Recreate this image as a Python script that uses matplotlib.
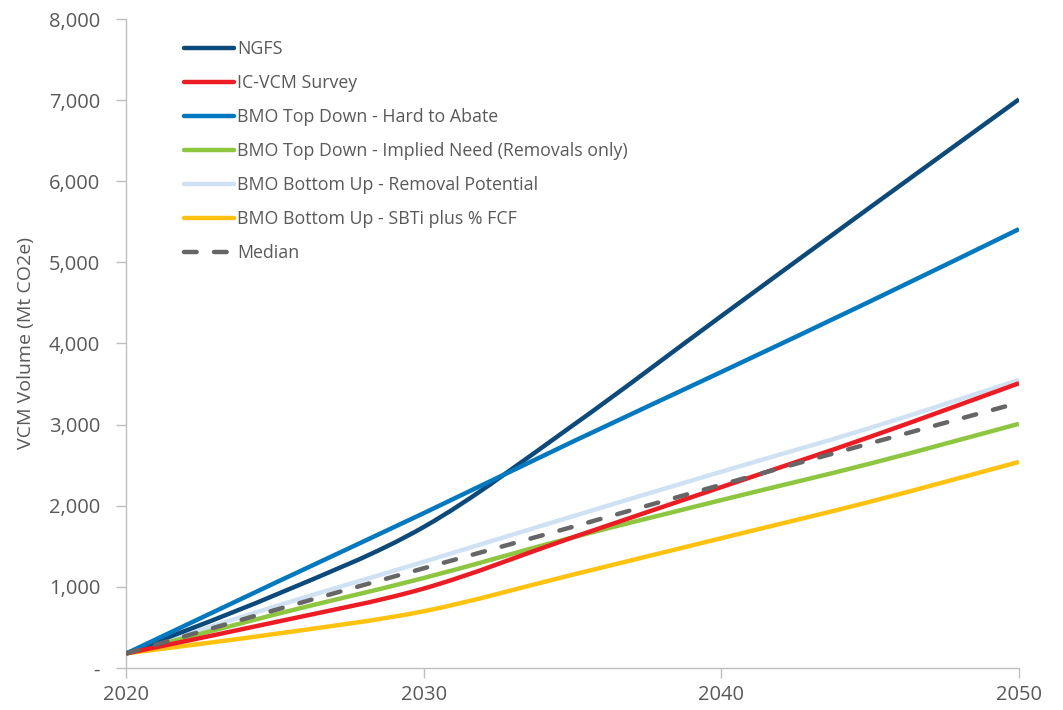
import numpy as np
import matplotlib
matplotlib.use("Agg")
import matplotlib.pyplot as plt
from matplotlib.path import Path
from matplotlib.patches import PathPatch
from matplotlib.lines import Line2D
from matplotlib.ticker import FuncFormatter

plt.rcParams["font.family"] = ["Open Sans", "DejaVu Sans"]

years = [2020, 2025, 2030, 2035, 2040, 2045, 2050]

ngfs = [180, 900, 1740, 2990, 4340, 5680, 7010]
ic_vcm = [180, 565, 980, 1610, 2230, 2850, 3510]
hard_to_abate = [180, 1050, 1910, 2790, 3650, 4520, 5410]
implied_need = [180, 660, 1110, 1610, 2070, 2520, 3010]
removal_potential = [180, 760, 1310, 1870, 2420, 2960, 3550]
sbti_fcf = [180, 420, 700, 1150, 1600, 2050, 2540]
median = [180, 715, 1230, 1740, 2260, 2770, 3270]

labels = [
    "NGFS",
    "IC-VCM Survey",
    "BMO Top Down - Hard to Abate",
    "BMO Top Down - Implied Need (Removals only)",
    "BMO Bottom Up - Removal Potential",
    "BMO Bottom Up - SBTi plus % FCF",
    "Median",
]
series = [ngfs, ic_vcm, hard_to_abate, implied_need, removal_potential, sbti_fcf, median]
colors = ["#0B4A7A", "#ED1C24", "#0079C1", "#8DC63F", "#CFE2F3", "#FFC20E", "#666666"]
zorders = [4, 5, 4, 3, 2, 3, 6]
text_color = "#595959"


def smooth_path(x, y):
    # Catmull-Rom style smoothing, like Excel's "smoothed line"
    x = np.asarray(x, float)
    y = np.asarray(y, float)
    pts = np.column_stack([x, y])
    verts = [pts[0]]
    codes = [Path.MOVETO]
    n = len(pts)
    for i in range(n - 1):
        p0 = pts[i - 1] if i > 0 else pts[i]
        p1 = pts[i]
        p2 = pts[i + 1]
        p3 = pts[i + 2] if i + 2 < n else pts[i + 1]
        c1 = p1 + (p2 - p0) / 6.0
        c2 = p2 - (p3 - p1) / 6.0
        verts += [c1, c2, p2]
        codes += [Path.CURVE4] * 3
    return Path(verts, codes)


fig = plt.figure(figsize=(10.63, 7.10), dpi=100)
ax = fig.add_axes([0.119, 0.0592, 0.8396, 0.914])

dash = (0, (2.85, 3.9))
handles = []
for vals, lab, col, z in zip(series, labels, colors, zorders):
    is_med = lab == "Median"
    ls = dash if is_med else "-"
    patch = PathPatch(smooth_path(years, vals), facecolor="none", edgecolor=col,
                      lw=3.2, linestyle=ls, capstyle="round" if is_med else "butt",
                      zorder=z)
    ax.add_patch(patch)
    handles.append(Line2D([], [], color=col, lw=3.2, linestyle=ls,
                          solid_capstyle="round", dash_capstyle="round"))

ax.set_xlim(2020, 2050)
ax.set_ylim(0, 8000)
ax.set_xticks([2020, 2030, 2040, 2050])
ax.set_yticks(range(0, 8001, 1000))
ax.yaxis.set_major_formatter(FuncFormatter(lambda v, p: "-" if v == 0 else f"{v:,.0f}"))

for s in ["top", "right"]:
    ax.spines[s].set_visible(False)
for s in ["left", "bottom"]:
    ax.spines[s].set_color("#BFBFBF")
    ax.spines[s].set_linewidth(1.0)

ax.tick_params(axis="both", colors="#BFBFBF", labelcolor=text_color,
               labelsize=14.5, length=7, width=1.0)
ax.tick_params(axis="y", pad=12)
ax.tick_params(axis="x", pad=5)

ax.set_ylabel("VCM Volume (Mt CO2e)", fontsize=14, color=text_color, labelpad=10)

leg = ax.legend(handles, labels, loc="upper left", bbox_to_anchor=(0.158, 0.966),
                bbox_transform=fig.transFigure, frameon=False, fontsize=12.8,
                handlelength=2.8, handletextpad=0.2, labelspacing=0.9)
for t in leg.get_texts():
    t.set_color(text_color)

plt.savefig("out.png", dpi=100)
